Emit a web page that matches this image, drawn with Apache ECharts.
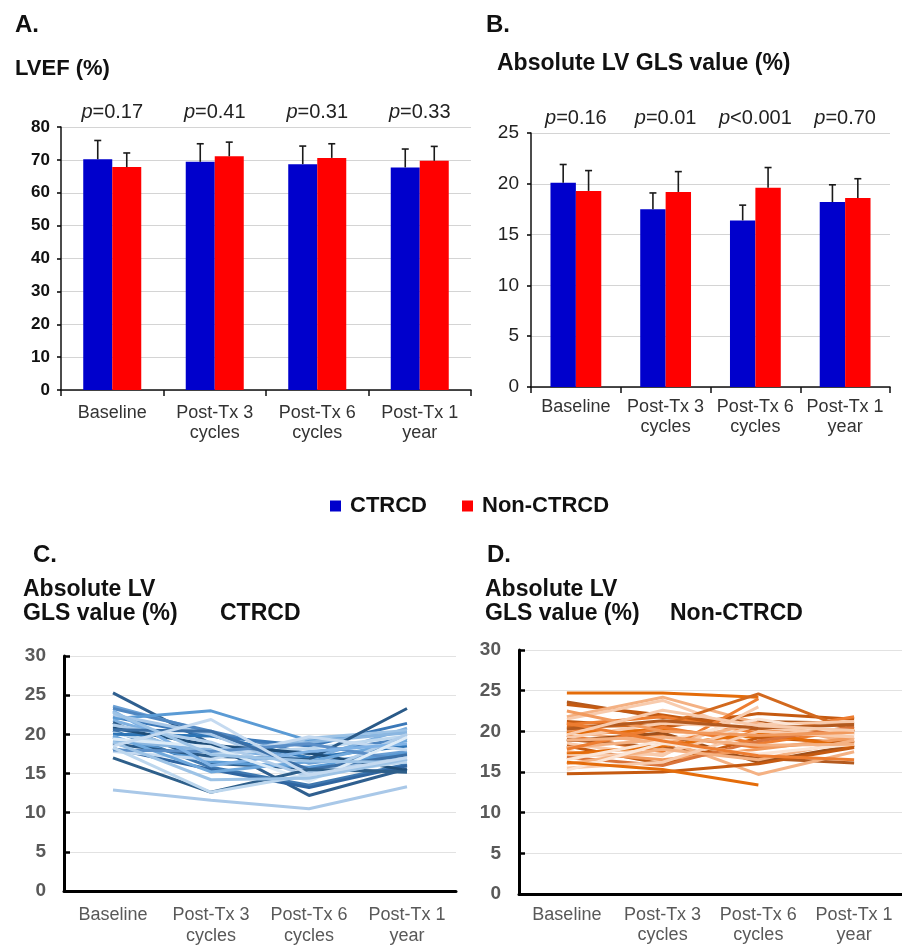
<!DOCTYPE html>
<html>
<head>
<meta charset="utf-8">
<script src="https://cdn.jsdelivr.net/npm/echarts@6/dist/echarts.min.js"></script>
<style>html,body{margin:0;padding:0;background:#fff;}#main{width:902px;height:947px;}</style>
</head>
<body>
<div id="main"></div>
<script>
// ---------- DATA ----------
const categories = ['Baseline', 'Post-Tx 3\ncycles', 'Post-Tx 6\ncycles', 'Post-Tx 1\nyear'];
const seriesNames = ['CTRCD', 'Non-CTRCD'];

// Panel A: LVEF (%) mean and SD
const lvefCtrcdMean = [70.2, 69.4, 68.7, 67.7];
const lvefCtrcdSd   = [5.7, 5.5, 5.5, 5.6];
const lvefNonMean   = [67.8, 71.1, 70.6, 69.7];
const lvefNonSd     = [4.3, 4.3, 4.3, 4.4];
const lvefPLabels   = ['p=0.17', 'p=0.41', 'p=0.31', 'p=0.33'];
const lvefTicks     = [0, 80, 10];  // min, max, interval

// Panel B: absolute LV GLS (%) mean and SD
const glsCtrcdMean = [20.1, 17.5, 16.4, 18.2];
const glsCtrcdSd   = [1.8, 1.6, 1.5, 1.7];
const glsNonMean   = [19.3, 19.2, 19.6, 18.6];
const glsNonSd     = [2.0, 2.0, 2.0, 1.9];
const glsPLabels   = ['p=0.16', 'p=0.01', 'p<0.001', 'p=0.70'];
const glsTicks     = [0, 25, 5];

// Panel C: individual CTRCD patients (Baseline, 3 cycles, 6 cycles, 1 year)
const ctrcdPatients = [
  [25.3, 18.8, 12.2, 15.6],
  [12.9, 11.6, 10.5, 13.3],
  [23.6, 20.2, 16.3, 17.8],
  [23.3, 20.4, 17.5, 19.5],
  [22.2, 19.8, 18.5, 21.4],
  [22.0, 23.0, 19.2, 20.3],
  [21.8, 18.2, 16.8, 20.8],
  [21.5, 16.3, 15.6, 15.2],
  [21.0, 17.0, 19.5, 20.5],
  [20.5, 15.8, 13.5, 16.2],
  [20.2, 17.5, 18.2, 19.8],
  [20.0, 19.8, 17.0, 18.5],
  [19.6, 16.5, 15.8, 17.6],
  [19.2, 18.0, 19.0, 20.2],
  [18.8, 17.2, 16.8, 23.3],
  [18.2, 15.5, 13.2, 16.0],
  [17.8, 16.8, 19.7, 18.0],
  [22.5, 20.0, 15.2, 17.2],
  [20.8, 18.6, 17.6, 15.4],
  [19.8, 15.2, 16.5, 19.2],
  [21.2, 19.0, 14.6, 20.0],
  [18.0, 17.8, 18.8, 16.6],
  [23.0, 16.0, 17.8, 18.8],
  [20.6, 20.4, 15.5, 17.4],
  [19.4, 18.4, 14.0, 19.6],
  [22.8, 17.4, 16.6, 16.4],
  [17.0, 12.6, 15.5, 15.2],
  [18.3, 12.6, 14.8, 16.5],
  [19.0, 14.2, 14.4, 16.8],
  [18.5, 21.9, 14.8, 17.0]
];
const ctrcdColors = ['#2F5F8F','#A9C8E8','#6A9FD4','#4F86C0','#3A78B8','#5B9BD5','#7EB0E0','#2B5C8C','#9DC3E6','#3F78B0',
  '#BDD7EE','#2E75B6','#5B9BD5','#8AB6E0','#2A5A88','#2F65A0','#C5DAF0','#A9C8E8','#1F4E79','#6FA8DC',
  '#B0CDEA','#5B8FC8','#7FB2E5','#3B6FA6','#DDEBF7','#9DC3E6','#2E5F8A','#BDD7EE','#9DC3E6','#C5DAF0'];

// Panel D: individual Non-CTRCD patients
const nonPatients = [
  [24.7, 24.7, 24.2, null],
  [23.6, 21.7, 21.2, 21.0],
  [23.3, 22.0, 20.2, 19.8],
  [21.8, 24.2, 21.0, 18.6],
  [21.5, 23.8, 19.5, 18.2],
  [21.2, 20.5, 22.2, 21.5],
  [20.8, 21.8, 19.8, 21.8],
  [20.5, 20.8, 24.6, 20.0],
  [20.2, 19.5, 18.0, 18.8],
  [20.0, 18.5, 21.0, 19.0],
  [19.8, 20.2, 19.2, 20.4],
  [19.5, 17.5, 24.0, null],
  [19.2, 21.0, 20.5, 19.5],
  [19.0, 18.0, 16.7, 16.1],
  [18.8, 19.8, 16.2, 18.3],
  [18.5, 17.0, 23.0, null],
  [18.2, 16.0, 19.2, 18.6],
  [18.0, 19.0, 14.7, 17.5],
  [17.8, 20.5, 18.5, 20.2],
  [17.5, 16.5, 17.8, 19.2],
  [17.2, 18.2, 19.8, 18.0],
  [17.0, 17.2, 20.8, 21.2],
  [16.8, 15.8, 18.8, 20.6],
  [16.5, 18.8, 21.5, 19.6],
  [16.0, 17.8, 16.5, 18.9],
  [15.5, 16.2, 20.0, 19.3],
  [15.2, 18.5, 17.2, 18.4],
  [14.8, 15.0, 16.0, 18.0],
  [16.2, 15.3, 13.4, null],
  [22.5, 20.0, 19.5, 19.9],
  [20.3, 21.3, 20.4, 20.8],
  [18.9, 19.3, 18.3, 18.4],
  [21.0, 18.8, 17.0, 16.5],
  [19.6, 22.6, 20.7, 20.1]
];
const nonColors = ['#E46C0A','#B35A1F','#C55A11','#F4B183','#F8CBAD','#C55A11','#ED7D31','#D2691E','#ED7D31','#F4B183',
  '#E46C0A','#ED7D31','#F8CBAD','#B35A1F','#A0501A','#F8CBAD','#C55A11','#F4B183','#ED7D31','#F19A5E',
  '#E46C0A','#F8CBAD','#D9733A','#FBE5D6','#F4B183','#F8CBAD','#FBE5D6','#C55A11','#E46C0A','#F19A5E',
  '#B35A1F','#F4B183','#ED7D31','#F8CBAD'];
const lineTicks = [0, 30, 5];

// ---------- CHART ----------
const FONT = 'Arial, "Liberation Sans", sans-serif';
const BLUE = '#0000CC', RED = '#FF0000';
const BAR_W = 0.283;

const chart = echarts.init(document.getElementById('main'), null, {renderer: 'canvas'});

function pRich(s) { return '{i|' + s.charAt(0) + '}{n|' + s.slice(1) + '}'; }

function errSeries(name, grid, mean, sd, sign) {
  return {
    type: 'custom', name: name, xAxisIndex: grid * 2, yAxisIndex: grid, z: 5,
    data: mean.map((m, i) => [i, m, m + sd[i]]),
    renderItem: function (params, api) {
      const band = api.size([1, 0])[0];
      const off = sign * band * BAR_W / 2;
      const p0 = api.coord([api.value(0), api.value(1)]);
      const p1 = api.coord([api.value(0), api.value(2)]);
      const x = p0[0] + off;
      const st = {stroke: '#1a1a1a', lineWidth: 1.6};
      return {type: 'group', children: [
        {type: 'line', shape: {x1: x, y1: p0[1], x2: x, y2: p1[1]}, style: st},
        {type: 'line', shape: {x1: x - 3.5, y1: p1[1], x2: x + 3.5, y2: p1[1]}, style: st}
      ]};
    }
  };
}

function barX(grid, margin) {
  return {
    type: 'category', gridIndex: grid, data: categories, position: 'bottom',
    axisLine: {lineStyle: {color: '#111', width: 1.5}},
    axisTick: {show: true, length: 6, lineStyle: {color: '#111', width: 1.5}},
    axisLabel: {fontFamily: FONT, fontSize: 18, color: '#333', lineHeight: 20, margin: margin, interval: 0}
  };
}
function pX(grid, labels) {
  return {
    type: 'category', gridIndex: grid, data: labels, position: 'top',
    axisLine: {show: false}, axisTick: {show: false},
    axisLabel: {interval: 0, margin: 5, formatter: pRich,
      rich: {i: {fontFamily: FONT, fontSize: 20, fontStyle: 'italic', color: '#222'},
             n: {fontFamily: FONT, fontSize: 20, color: '#222'}}}
  };
}
function lineX(grid, margin, lh) {
  return {
    type: 'category', gridIndex: grid, data: categories, boundaryGap: true,
    axisLine: {lineStyle: {color: '#000', width: 3}},
    axisTick: {show: false},
    axisLabel: {fontFamily: FONT, fontSize: 18, color: '#595959', lineHeight: lh, margin: margin, interval: 0}
  };
}
function yAx(grid, ticks, bold, color, inside, lw, gridColor, fs, margin) {
  return {
    type: 'value', gridIndex: grid, min: ticks[0], max: ticks[1], interval: ticks[2],
    axisLine: {show: true, lineStyle: {color: lw > 2 ? '#000' : '#111', width: lw}},
    axisTick: {show: true, inside: inside, length: inside ? 6 : 4, lineStyle: {color: '#000', width: lw > 2 ? 2.5 : 1.5}},
    splitLine: {show: true, lineStyle: {color: gridColor, width: 1.2}},
    axisLabel: {fontFamily: FONT, fontSize: fs, fontWeight: bold ? 'bold' : 'normal', color: color, margin: margin}
  };
}

const series = [
  {type: 'bar', name: 'CTRCD', xAxisIndex: 0, yAxisIndex: 0, data: lvefCtrcdMean, barWidth: (BAR_W * 100) + '%', barGap: '0%', itemStyle: {color: BLUE}},
  {type: 'bar', name: 'Non-CTRCD', xAxisIndex: 0, yAxisIndex: 0, data: lvefNonMean, barWidth: (BAR_W * 100) + '%', barGap: '0%', itemStyle: {color: RED}},
  errSeries('errA1', 0, lvefCtrcdMean, lvefCtrcdSd, -1),
  errSeries('errA2', 0, lvefNonMean, lvefNonSd, 1),
  {type: 'bar', name: 'CTRCD', xAxisIndex: 2, yAxisIndex: 1, data: glsCtrcdMean, barWidth: (BAR_W * 100) + '%', barGap: '0%', itemStyle: {color: BLUE}},
  {type: 'bar', name: 'Non-CTRCD', xAxisIndex: 2, yAxisIndex: 1, data: glsNonMean, barWidth: (BAR_W * 100) + '%', barGap: '0%', itemStyle: {color: RED}},
  errSeries('errB1', 1, glsCtrcdMean, glsCtrcdSd, -1),
  errSeries('errB2', 1, glsNonMean, glsNonSd, 1)
];
ctrcdPatients.forEach((d, i) => series.push({
  type: 'line', name: 'c' + i, xAxisIndex: 4, yAxisIndex: 2, data: d, symbol: 'none', connectNulls: false,
  lineStyle: {color: ctrcdColors[i % ctrcdColors.length], width: 3}, silent: true
}));
nonPatients.forEach((d, i) => series.push({
  type: 'line', name: 'n' + i, xAxisIndex: 5, yAxisIndex: 3, data: d, symbol: 'none', connectNulls: false,
  lineStyle: {color: nonColors[i % nonColors.length], width: 3}, silent: true
}));

function txt(x, y, text, size) {
  return {type: 'text', left: x, top: y - size / 2, style: {text: text, font: 'bold ' + size + 'px ' + FONT, fill: '#111'}};
}

const option = {
  animation: false,
  backgroundColor: '#fff',
  grid: [
    {left: 61, top: 127, width: 410, height: 263},
    {left: 531, top: 133, width: 359, height: 254},
    {left: 64, top: 656, width: 392, height: 239},
    {left: 519, top: 650, width: 394, height: 244}
  ],
  xAxis: [
    barX(0, 13), pX(0, lvefPLabels),
    barX(1, 10), pX(1, glsPLabels),
    lineX(2, 14, 21), lineX(3, 11, 20)
  ],
  yAxis: [
    yAx(0, lvefTicks, true, '#111', false, 1.5, '#d4d4d4', 17, 11),
    yAx(1, glsTicks, false, '#222', false, 1.5, '#d4d4d4', 19, 12),
    yAx(2, lineTicks, true, '#595959', true, 3, '#e2e2e2', 19, 18),
    yAx(3, lineTicks, true, '#595959', true, 3, '#e2e2e2', 19, 18)
  ],
  legend: {
    data: seriesNames, left: 325, top: 490, icon: 'rect', itemWidth: 11, itemHeight: 11, itemGap: 35,
    textStyle: {fontFamily: FONT, fontSize: 22, fontWeight: 'bold', color: '#111', padding: [0, 0, 0, 4]},
    selectedMode: false
  },
  graphic: [
    txt(15, 25, 'A.', 24),
    txt(15, 69, 'LVEF (%)', 22),
    txt(486, 25, 'B.', 24),
    txt(497, 64, 'Absolute LV GLS value (%)', 23),
    txt(33, 555, 'C.', 24),
    txt(23, 590, 'Absolute LV', 23),
    txt(23, 614, 'GLS value (%)', 23),
    txt(220, 614, 'CTRCD', 23),
    txt(487, 555, 'D.', 24),
    txt(485, 590, 'Absolute LV', 23),
    txt(485, 614, 'GLS value (%)', 23),
    txt(670, 614, 'Non-CTRCD', 23)
  ],
  series: series
};
chart.setOption(option);
</script>
</body>
</html>
